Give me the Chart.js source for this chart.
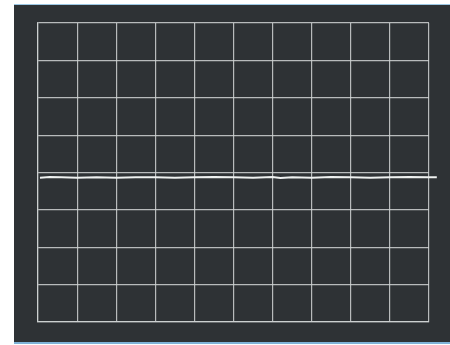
<!DOCTYPE html>
<html>
<head>
<meta charset="utf-8">
<script src="https://cdn.jsdelivr.net/npm/chart.js@4/dist/chart.umd.min.js"></script>
<style>
  html, body { margin: 0; padding: 0; background: #ffffff; }
  #screen {
    position: absolute; left: 14px; top: 4px; width: 436px; height: 337px;
    background: #2e3235;
    border-top: 1px solid #9cc8e4;
    border-bottom: 2px solid #7fb3d8;
  }
  #wrap { position: absolute; left: 0; top: 0; width: 450px; height: 345px; }
</style>
</head>
<body>
<div id="screen"></div>
<div id="wrap"><canvas id="scope" width="450" height="345"></canvas></div>
<script>
// trace time positions (divisions) and levels (divisions from centre)
var traceTime = [0.05, 0.3, 0.6, 1, 1.5, 2, 2.5, 3, 3.5, 4, 4.5, 5, 5.5, 6, 6.2, 6.5, 7, 7.5, 8, 8.5, 9, 9.5, 10, 10.2];
var traceLevel = [-0.14, -0.12, -0.13, -0.14, -0.13, -0.14, -0.13, -0.13, -0.14, -0.13, -0.12, -0.13, -0.14, -0.12, -0.15, -0.13, -0.14, -0.12, -0.13, -0.14, -0.13, -0.12, -0.13, -0.13];

var xDivs = [0, 10];
var yDivs = [-4, 4];

var points = [];
for (var i = 0; i < traceTime.length; i++) {
  points.push({ x: traceTime[i], y: traceLevel[i] });
}

var gridColor = "rgba(208,211,211,0.85)";

new Chart(document.getElementById("scope"), {
  type: "line",
  data: {
    datasets: [{
      data: points,
      borderColor: "#eef1f0",
      borderWidth: 2,
      pointRadius: 0,
      tension: 0,
      clip: { left: 5, top: 5, right: 12, bottom: 5 }
    }]
  },
  options: {
    responsive: false,
    animation: false,
    layout: { padding: { left: 38, top: 23, right: 21, bottom: 23 } },
    plugins: { legend: { display: false }, tooltip: { enabled: false } },
    scales: {
      x: {
        type: "linear",
        // screen is 10 divisions wide; the trace runs a little past the graticule
        afterDataLimits: function (scale) { scale.min = xDivs[0]; scale.max = xDivs[1]; },
        ticks: { display: false, stepSize: 1 },
        grid: { color: gridColor, lineWidth: 1.2, drawTicks: false },
        border: { display: true, color: gridColor, width: 1.2 }
      },
      y: {
        type: "linear",
        min: yDivs[0], max: yDivs[1],
        ticks: { display: false, stepSize: 1 },
        grid: { color: gridColor, lineWidth: 1.2, drawTicks: false },
        border: { display: true, color: gridColor, width: 1.2 }
      }
    }
  }
});
</script>
</body>
</html>
